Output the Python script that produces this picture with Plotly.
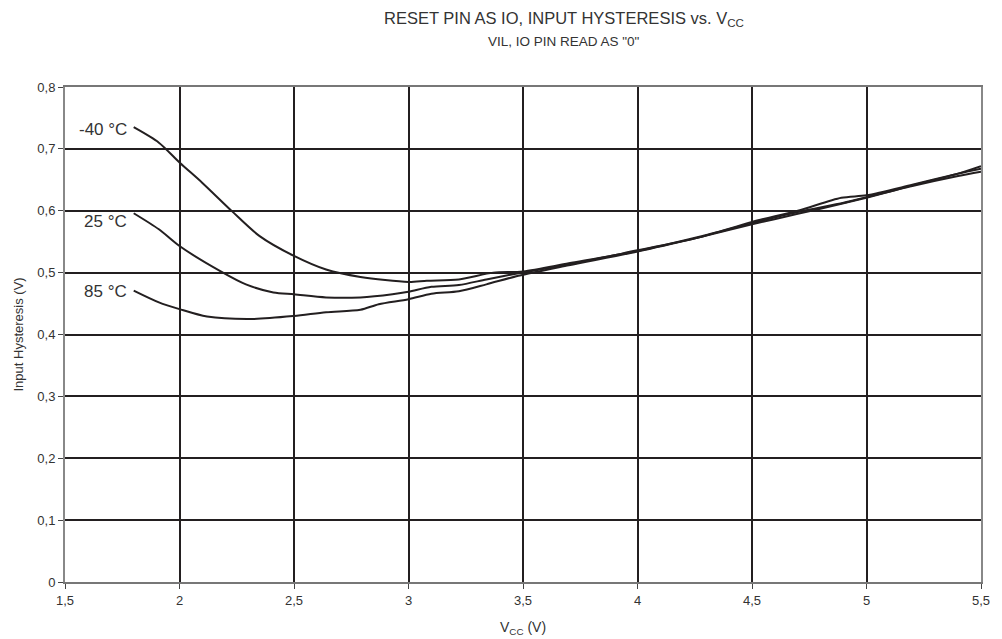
import plotly.graph_objects as go

# Data
x_m40 = [1.8, 1.91, 2.0, 2.1, 2.23, 2.35, 2.5, 2.64, 2.79, 3.0, 3.08, 3.22, 3.37, 3.5, 3.7, 4.0, 4.27, 4.5, 4.7, 4.9, 5.0, 5.2, 5.4, 5.5]
y_m40 = [0.735, 0.71, 0.678, 0.645, 0.599, 0.559, 0.527, 0.505, 0.493, 0.485, 0.487, 0.489, 0.5, 0.502, 0.515, 0.535, 0.558, 0.58, 0.598, 0.613, 0.622, 0.64, 0.656, 0.663]

x_25 = [1.8, 1.91, 2.0, 2.18, 2.29, 2.41, 2.5, 2.64, 2.79, 2.93, 3.0, 3.1, 3.22, 3.34, 3.48, 3.7, 4.0, 4.27, 4.5, 4.7, 4.89, 5.0, 5.2, 5.4, 5.5]
y_25 = [0.596, 0.57, 0.543, 0.502, 0.481, 0.468, 0.465, 0.46, 0.46, 0.465, 0.469, 0.477, 0.48, 0.489, 0.499, 0.513, 0.536, 0.557, 0.582, 0.6, 0.621, 0.625, 0.642, 0.66, 0.668]

x_85 = [1.8, 1.91, 2.0, 2.12, 2.31, 2.5, 2.64, 2.79, 2.87, 3.0, 3.1, 3.22, 3.34, 3.48, 3.7, 4.0, 4.27, 4.5, 4.7, 4.9, 5.0, 5.2, 5.4, 5.5]
y_85 = [0.471, 0.452, 0.441, 0.429, 0.425, 0.43, 0.436, 0.44, 0.449, 0.457, 0.466, 0.47, 0.481, 0.495, 0.512, 0.534, 0.557, 0.578, 0.595, 0.612, 0.621, 0.641, 0.66, 0.672]

series_names = ["-40 °C", "25 °C", "85 °C"]
series = list(zip(series_names, [x_m40, x_25, x_85], [y_m40, y_25, y_85]))
label_yshift = [-2, -8, -1]  # style: vertical offset of curve labels (px)

x_ticks = [1.5, 2, 2.5, 3, 3.5, 4, 4.5, 5, 5.5]
y_ticks = [0, 0.1, 0.2, 0.3, 0.4, 0.5, 0.6, 0.7, 0.8]

LINE = "#231f20"
TEXT = "#333333"
FONT = "Liberation Sans, Arial, sans-serif"

fig = go.Figure()
annotations = []
for (name, xs, ys), ysh in zip(series, label_yshift):
    fig.add_trace(go.Scatter(x=xs, y=ys, mode="lines", name=name,
                             line=dict(color=LINE, width=2, shape="spline", smoothing=0.8),
                             showlegend=False, hoverinfo="skip"))
    annotations.append(dict(x=xs[0], y=ys[0], xref="x", yref="y", text=name,
                            showarrow=False, xanchor="right", yanchor="middle",
                            xshift=-5, yshift=ysh,
                            font=dict(family=FONT, size=17, color=TEXT)))

annotations += [
    dict(text="RESET PIN AS IO, INPUT HYSTERESIS vs. V<sub>CC</sub>", xref="paper", yref="paper",
         x=0.545, y=1.0, yshift=68, showarrow=False, xanchor="center", yanchor="middle",
         font=dict(family=FONT, size=16.5, color=TEXT)),
    dict(text="VIL, IO PIN READ AS \"0\"", xref="paper", yref="paper",
         x=0.545, y=1.0, yshift=46, showarrow=False, xanchor="center", yanchor="middle",
         font=dict(family=FONT, size=13.5, color=TEXT)),
    dict(text="Input Hysteresis (V)", xref="paper", yref="paper", textangle=-90,
         x=0, y=0.5, xshift=-47, showarrow=False, xanchor="center", yanchor="middle",
         font=dict(family=FONT, size=13, color=TEXT)),
    dict(text="V<sub>CC</sub> (V)", xref="paper", yref="paper",
         x=0.5, y=0, yshift=-46, showarrow=False, xanchor="center", yanchor="middle",
         font=dict(family=FONT, size=14, color=TEXT)),
]

fig.update_layout(
    width=1002, height=639,
    paper_bgcolor="white", plot_bgcolor="white",
    margin=dict(l=65, r=19, t=87, b=57),
    separators=", ",
    font=dict(family=FONT, color=TEXT),
    annotations=annotations,
)

fig.update_xaxes(
    range=[1.5, 5.5], tickvals=x_ticks, ticktext=[str(v).replace(".", ",") for v in x_ticks],
    showgrid=True, gridcolor=LINE, gridwidth=2,
    showline=True, linecolor="#777777", linewidth=2, mirror=True,
    ticks="outside", ticklen=5, tickcolor="#444444",
    tickfont=dict(family=FONT, size=13, color=TEXT),
    zeroline=False,
)
fig.update_yaxes(
    range=[0, 0.8], tickvals=y_ticks, ticktext=[str(v).replace(".", ",") for v in y_ticks],
    showgrid=True, gridcolor=LINE, gridwidth=2,
    showline=True, linecolor="#888888", linewidth=2, mirror=True,
    ticks="outside", ticklen=5, tickcolor="#444444",
    tickfont=dict(family=FONT, size=13, color=TEXT),
    zeroline=False,
)

fig.write_html("out.html", config={"displayModeBar": False},
               post_script="document.body.style.margin='0px';")
